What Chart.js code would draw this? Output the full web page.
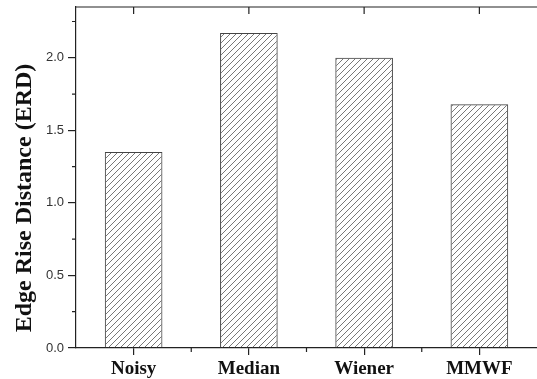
<!DOCTYPE html>
<html>
<head>
<meta charset="utf-8">
<script src="https://cdn.jsdelivr.net/npm/chart.js@4"></script>
<style>
  html, body { margin: 0; padding: 0; background: #fff; overflow: hidden; }
  #wrap { width: 537px; height: 379px; }
</style>
</head>
<body>
<div id="wrap"><canvas id="myChart" width="537" height="379"></canvas></div>
<script>
// data
const categories = ['Noisy', 'Median', 'Wiener', 'MMWF'];
const erdValues = [1.35, 2.17, 2.00, 1.68];
const yTicks = [0.0, 0.5, 1.0, 1.5, 2.0];
const yMinorTicks = [0.25, 0.75, 1.25, 1.75, 2.25];
const yTitle = 'Edge Rise Distance (ERD)';

// diagonal hatch for the bars
const makeHatch = () => {
    const c = document.createElement('canvas');
    c.width = 6;
    c.height = 6;
    const g = c.getContext('2d');
    g.strokeStyle = '#555';
    g.lineWidth = 0.8;
    g.beginPath();
    g.moveTo(-1, 7); g.lineTo(7, -1);
    g.moveTo(-1, 1); g.lineTo(1, -1);
    g.moveTo(5, 7); g.lineTo(7, 5);
    g.stroke();
    return g.createPattern(c, 'repeat');
};

const noPad = s => {
    s.paddingLeft = 0;
    s.paddingRight = 0;
    s.paddingTop = 0;
    s.paddingBottom = 0;
};

// minor ticks, top frame line, top ticks and the y title
// (the right side of the frame is cut off in the original)
const framePlugin = {
    id: 'frame',
    afterDraw(chart) {
        const { ctx, chartArea, scales } = chart;
        const x = scales.x, y = scales.y;
        ctx.save();
        ctx.strokeStyle = '#222';
        ctx.lineWidth = 1.2;
        ctx.beginPath();
        ctx.moveTo(chartArea.left, chartArea.top);
        ctx.lineTo(chartArea.right, chartArea.top);
        yMinorTicks.forEach(v => {
            const py = y.getPixelForValue(v);
            ctx.moveTo(chartArea.left - 4, py);
            ctx.lineTo(chartArea.left, py);
        });
        categories.forEach((c, i) => {
            const px = x.getPixelForValue(i);
            const bx = x.getPixelForValue(i + 0.5);
            if (i < categories.length - 1) {
                ctx.moveTo(bx, chartArea.bottom);
                ctx.lineTo(bx, chartArea.bottom + 4);
            }
            ctx.moveTo(px, chartArea.top);
            ctx.lineTo(px, chartArea.top + 7);
        });
        ctx.stroke();

        // axis title, sits a bit below the middle like the original
        ctx.translate(25, 198);
        ctx.rotate(-Math.PI / 2);
        ctx.fillStyle = '#111';
        ctx.font = 'bold 24px "Liberation Serif", "Times New Roman", serif';
        ctx.textAlign = 'center';
        ctx.textBaseline = 'middle';
        ctx.fillText(yTitle, 0, 0);
        ctx.restore();
    }
};

const initChart = () => {
    const ctx = document.getElementById('myChart').getContext('2d');
    new Chart(ctx, {
        type: 'bar',
        data: {
            labels: categories,
            datasets: [{
                label: 'ERD',
                data: erdValues,
                backgroundColor: makeHatch(),
                borderColor: '#444',
                borderWidth: 1,
                barPercentage: 0.5,
                categoryPercentage: 1.0
            }]
        },
        options: {
            responsive: false,
            animation: false,
            devicePixelRatio: 1,
            layout: { padding: { top: 7, right: 0, left: 0, bottom: 0 } },
            plugins: { legend: { display: false }, tooltip: { enabled: false } },
            scales: {
                x: {
                    offset: true,
                    grid: {
                        offset: false,
                        drawOnChartArea: false,
                        drawTicks: true,
                        tickLength: 7,
                        color: '#222',
                        lineWidth: 1.2
                    },
                    border: { color: '#222', width: 1.2 },
                    ticks: {
                        color: '#111',
                        padding: 3,
                        font: { family: '"Liberation Serif", "Times New Roman", serif', size: 19, weight: 'bold' }
                    },
                    afterFit: s => { s.height = 31; noPad(s); }
                },
                y: {
                    min: 0,
                    max: 2.35,
                    grid: {
                        drawOnChartArea: false,
                        drawTicks: true,
                        tickLength: 8,
                        color: '#222',
                        lineWidth: 1.2
                    },
                    border: { color: '#222', width: 1.2 },
                    afterBuildTicks: s => { s.ticks = yTicks.map(v => ({ value: v })); },
                    ticks: {
                        color: '#333',
                        padding: 4,
                        font: { family: '"Liberation Sans", Arial, sans-serif', size: 13 },
                        callback: v => Number(v).toFixed(1)
                    },
                    afterFit: s => { s.width = 76; noPad(s); }
                }
            }
        },
        plugins: [framePlugin]
    });
};

document.addEventListener('DOMContentLoaded', initChart);
</script>
</body>
</html>
